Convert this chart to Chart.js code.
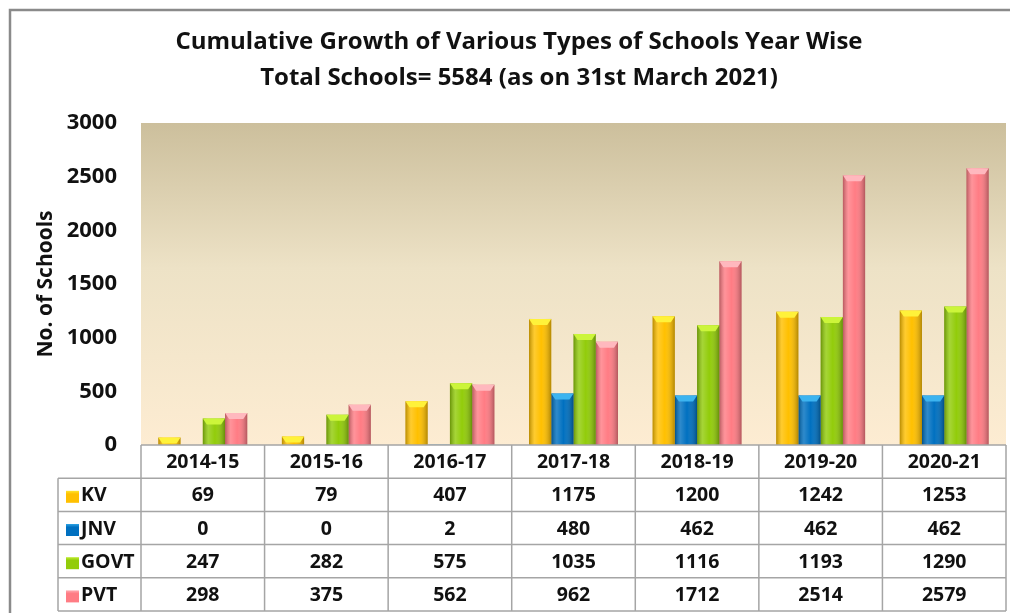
<!DOCTYPE html>
<html>
<head>
<meta charset="utf-8">
<script src="https://cdn.jsdelivr.net/npm/chart.js@4/dist/chart.umd.min.js"></script>
<style>
  html, body { margin: 0; padding: 0; background: #fff; }
  #wrap { width: 1010px; height: 613px; position: relative; }
</style>
</head>
<body>
<div id="wrap"><canvas id="schoolChart" width="1010" height="613"></canvas></div>
<script>
// data
const years = ['2014-15', '2015-16', '2016-17', '2017-18', '2018-19', '2019-20', '2020-21'];
const kv = [69, 79, 407, 1175, 1200, 1242, 1253];
const jnv = [0, 0, 2, 480, 462, 462, 462];
const govt = [247, 282, 575, 1035, 1116, 1193, 1290];
const pvt = [298, 375, 562, 962, 1712, 2514, 2579];
const seriesNames = ['KV', 'JNV', 'GOVT', 'PVT'];
const barColors = ['#FFC000', '#0070C0', '#92CC0A', '#FF7C84'];
const capColors = ['#FFF23A', '#3CB4F0', '#CCF53A', '#FFB8BE'];
const titleLines = ['Cumulative Growth of Various Types of Schools Year Wise', 'Total Schools= 5584 (as on 31st March 2021)'];

const FONT = '"Open Sans", Lato, sans-serif';

// plot background + outer frame
const backdrop = {
  id: 'backdrop',
  beforeDraw(chart) {
    const { ctx, chartArea: a } = chart;
    ctx.save();
    ctx.strokeStyle = '#8a8a8a';
    ctx.lineWidth = 2.5;
    ctx.beginPath();
    ctx.moveTo(10, chart.height);
    ctx.lineTo(10, 10);
    ctx.lineTo(chart.width, 10);
    ctx.stroke();
    const g = ctx.createLinearGradient(0, a.top, 0, a.bottom);
    g.addColorStop(0, '#CCBF9C');
    g.addColorStop(0.45, '#EDE2C6');
    g.addColorStop(1, '#FDECD2');
    ctx.fillStyle = g;
    ctx.fillRect(a.left, a.top, a.right - a.left, a.bottom - a.top);
    ctx.restore();
  }
};

// 3d look on the bars
const bevel = {
  id: 'bevel',
  afterDatasetsDraw(chart) {
    const ctx = chart.ctx;
    ctx.save();
    chart.data.datasets.forEach((ds, di) => {
      chart.getDatasetMeta(di).data.forEach(bar => {
        const { x, y, base, width } = bar.getProps(['x', 'y', 'base', 'width'], true);
        const h = base - y;
        if (h <= 0) return;
        const l = x - width / 2, r = x + width / 2;
        const g = ctx.createLinearGradient(l, 0, r, 0);
        g.addColorStop(0, 'rgba(0,0,0,0.28)');
        g.addColorStop(0.25, 'rgba(255,255,255,0.18)');
        g.addColorStop(0.55, 'rgba(255,255,255,0)');
        g.addColorStop(1, 'rgba(0,0,0,0.3)');
        ctx.fillStyle = g;
        ctx.fillRect(l, y, width, h);
        const cap = Math.min(6, h);
        ctx.fillStyle = capColors[di];
        ctx.beginPath();
        ctx.moveTo(l, y);
        ctx.lineTo(r, y);
        ctx.lineTo(r - 4, y + cap);
        ctx.lineTo(l + 4, y + cap);
        ctx.closePath();
        ctx.fill();
      });
    });
    ctx.restore();
  }
};

// data table under the plot
const dataTable = {
  id: 'dataTable',
  afterDraw(chart) {
    const { ctx, chartArea: a } = chart;
    const xs = chart.scales.x;
    const n = years.length;
    const centers = years.map((_, i) => xs.getPixelForValue(i));
    const edges = [a.left];
    for (let i = 0; i < n - 1; i++) edges.push((centers[i] + centers[i + 1]) / 2);
    edges.push(a.right);
    const rowH = 33.2;
    const top = a.bottom;
    const legLeft = 58;
    const bottom = top + rowH * 5;
    ctx.save();
    ctx.fillStyle = '#fff';
    ctx.fillRect(a.left, top, a.right - a.left, rowH);
    ctx.fillRect(legLeft, top + rowH, a.right - legLeft, rowH * 4);
    ctx.strokeStyle = '#a5a5a5';
    ctx.lineWidth = 1.5;
    ctx.beginPath();
    for (let r = 0; r <= 5; r++) {
      const yy = top + r * rowH;
      ctx.moveTo(r === 0 ? a.left : legLeft, yy);
      ctx.lineTo(a.right, yy);
    }
    edges.forEach(ex => { ctx.moveTo(ex, top); ctx.lineTo(ex, bottom); });
    ctx.moveTo(legLeft, top + rowH);
    ctx.lineTo(legLeft, bottom);
    ctx.stroke();

    ctx.fillStyle = '#111';
    ctx.font = 'bold 19.5px ' + FONT;
    ctx.textAlign = 'center';
    ctx.textBaseline = 'middle';
    years.forEach((yr, i) => ctx.fillText(yr, centers[i], top + rowH / 2 + 1));

    chart.data.datasets.forEach((ds, di) => {
      const cy = top + rowH * (di + 1) + rowH / 2 + 1;
      ds.data.forEach((v, i) => {
        ctx.fillStyle = '#111';
        ctx.textAlign = 'center';
        ctx.fillText(String(v), centers[i], cy);
      });
      const g = ctx.createLinearGradient(0, cy - 6, 0, cy + 6);
      g.addColorStop(0, capColors[di]);
      g.addColorStop(0.35, barColors[di]);
      g.addColorStop(1, barColors[di]);
      ctx.fillStyle = g;
      ctx.fillRect(66, cy - 5, 13, 12);
      ctx.fillStyle = '#111';
      ctx.textAlign = 'left';
      ctx.fillText(ds.label, 81, cy);
    });
    ctx.restore();
  }
};

function makeSet(label, data, i) {
  return {
    label: label,
    data: data,
    backgroundColor: barColors[i],
    borderWidth: 0,
    categoryPercentage: 0.72,
    barPercentage: 1
  };
}

const ctx = document.getElementById('schoolChart').getContext('2d');
new Chart(ctx, {
  type: 'bar',
  data: {
    labels: years,
    datasets: [
      makeSet(seriesNames[0], kv, 0),
      makeSet(seriesNames[1], jnv, 1),
      makeSet(seriesNames[2], govt, 2),
      makeSet(seriesNames[3], pvt, 3)
    ]
  },
  options: {
    responsive: false,
    animation: false,
    layout: { padding: { left: 32, right: 4, top: 0, bottom: 168 } },
    plugins: {
      legend: { display: false },
      tooltip: { enabled: false },
      title: {
        display: true,
        text: titleLines,
        color: '#111',
        font: { family: FONT, size: 24, weight: 'bold', lineHeight: 1.5 },
        padding: { top: 24, bottom: 27 }
      }
    },
    scales: {
      x: { display: false },
      y: {
        min: 0,
        max: 3000,
        afterFit(scale) { scale.width = 109; },
        ticks: {
          stepSize: 500,
          padding: 24,
          color: '#111',
          font: { family: FONT, size: 22, weight: 'bold' },
          callback: v => String(v)
        },
        grid: { display: false, drawTicks: false },
        border: { display: false },
        title: {
          display: true,
          text: 'No. of Schools',
          color: '#111',
          font: { family: FONT, size: 21, weight: 'bold' },
          padding: { top: 1, bottom: 0 }
        }
      }
    }
  },
  plugins: [backdrop, bevel, dataTable]
});
</script>
</body>
</html>
